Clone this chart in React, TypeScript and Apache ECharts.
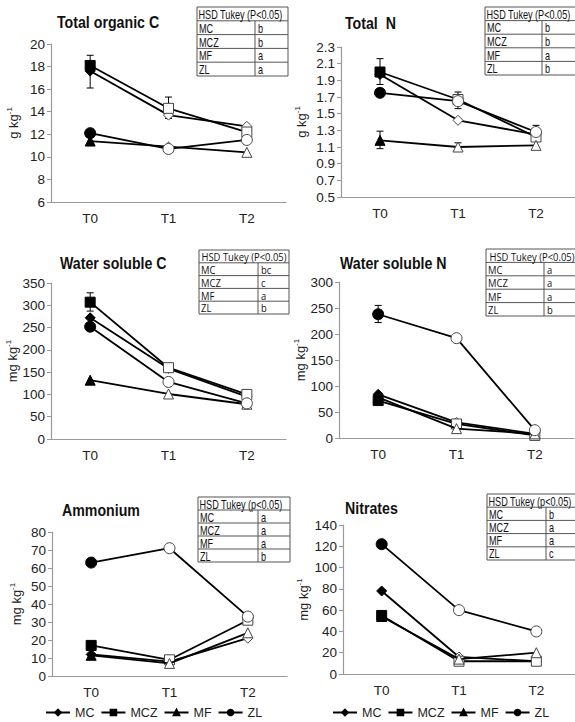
import React, { useEffect, useRef } from "react";
import * as echarts from "echarts";

const categories = ["T0", "T1", "T2"];
const treatments = ["MC", "MCZ", "MF", "ZL"];
const symbols = ["diamond", "rect", "triangle", "circle"];
const symbolSizes = [10, 10, 10, 11];

// Total organic C (g kg-1)
const tocMC = [17.6, 13.7, 12.7];
const tocMCZ = [18.1, 14.3, 12.2];
const tocMF = [11.4, 10.9, 10.4];
const tocZL = [12.1, 10.7, 11.5];
const tocErr = [[0, 16.1, 19.0], [1, 13.4, 15.3]];
const tocHSD = ["b", "b", "a", "a"];

// Total N (g kg-1)
const tnMC = [1.97, 1.42, 1.25];
const tnMCZ = [2.0, 1.67, 1.22];
const tnMF = [1.18, 1.1, 1.12];
const tnZL = [1.75, 1.65, 1.28];
const tnErr = [[0, 1.85, 2.16], [0, 1.08, 1.29], [1, 1.56, 1.76], [1, 1.06, 1.15], [2, 1.17, 1.36]];
const tnHSD = ["b", "b", "a", "b"];

// Water soluble C (mg kg-1)
const wscMC = [272, 158, 95];
const wscMCZ = [307, 160, 100];
const wscMF = [132, 101, 78];
const wscZL = [252, 128, 80];
const wscErr = [[0, 287, 328]];
const wscHSD = ["bc", "c", "a", "b"];

// Water soluble N (mg kg-1)
const wsnMC = [84, 30, 8];
const wsnMCZ = [72, 27, 5];
const wsnMF = [78, 18, 8];
const wsnZL = [238, 192, 15];
const wsnErr = [[0, 222, 255]];
const wsnHSD = ["a", "a", "a", "b"];

// Ammonium (mg kg-1)
const amMC = [12, 8, 21];
const amMCZ = [17, 9, 31];
const amMF = [11.5, 7, 24];
const amZL = [63, 71, 33];
const amErr: number[][] = [];
const amHSD = ["a", "a", "a", "b"];

// Nitrates (mg kg-1)
const niMC = [78, 16, 12];
const niMCZ = [55, 12, 12];
const niMF = [54, 14, 20];
const niZL = [122, 60, 40];
const niErr: number[][] = [];
const niHSD = ["b", "a", "a", "c"];

const panels = [
  { title: "Total organic C", unit: "g kg", values: [tocMC, tocMCZ, tocMF, tocZL], err: tocErr, hsd: tocHSD, head: "HSD Tukey (P<0.05)",
    min: 6, max: 20, interval: 2, dec: 0,
    grid: { left: 51, top: 44, width: 235, height: 158 }, titlePos: [57, 22], nameGap: 30,
    table: { x: 197, y: 7, w: 91, h: 69, col: 58 }, tfont: "Liberation Sans" },
  { title: "Total  N", unit: "g kg", values: [tnMC, tnMCZ, tnMF, tnZL], err: tnErr, hsd: tnHSD, head: "HSD Tukey (P<0.05)",
    min: 0.5, max: 2.3, interval: 0.2, dec: 1,
    grid: { left: 341, top: 47, width: 235, height: 150 }, titlePos: [345, 23], nameGap: 32,
    table: { x: 485, y: 7, w: 93, h: 68, col: 57 }, tfont: "Liberation Sans" },
  { title: "Water soluble C", unit: "mg kg", values: [wscMC, wscMCZ, wscMF, wscZL], err: wscErr, hsd: wscHSD, head: "HSD Tukey (P<0.05)",
    min: 0, max: 350, interval: 50, dec: 0,
    grid: { left: 51, top: 283, width: 235, height: 156 }, titlePos: [60, 263], nameGap: 30,
    table: { x: 199, y: 250, w: 90, h: 64, col: 59 }, tfont: "Open Sans" },
  { title: "Water soluble N", unit: "mg kg", values: [wsnMC, wsnMCZ, wsnMF, wsnZL], err: wsnErr, hsd: wsnHSD, head: "HSD Tukey (P<0.05)",
    min: 0, max: 300, interval: 50, dec: 0,
    grid: { left: 339, top: 282, width: 235, height: 156 }, titlePos: [340, 263], nameGap: 30,
    table: { x: 486, y: 249, w: 92, h: 67, col: 58 }, tfont: "Open Sans" },
  { title: "Ammonium", unit: "mg kg", values: [amMC, amMCZ, amMF, amZL], err: amErr, hsd: amHSD, head: "HSD Tukey (p<0.05)",
    min: 0, max: 80, interval: 10, dec: 0,
    grid: { left: 52, top: 532, width: 235, height: 144 }, titlePos: [62, 510], nameGap: 28,
    table: { x: 198, y: 497, w: 92, h: 65, col: 60 }, tfont: "Liberation Sans" },
  { title: "Nitrates", unit: "mg kg", values: [niMC, niMCZ, niMF, niZL], err: niErr, hsd: niHSD, head: "HSD Tukey (p<0.05)",
    min: 0, max: 140, interval: 20, dec: 0,
    grid: { left: 343, top: 525, width: 235, height: 149 }, titlePos: [345, 508], nameGap: 32,
    table: { x: 487, y: 494, w: 91, h: 66, col: 59 }, tfont: "Liberation Sans" },
];

const FONT = "Liberation Sans, Arial, sans-serif";

function buildTable(p: any) {
  const t = p.table;
  const rowH = t.h / 5;
  const stroke = { stroke: "#555", lineWidth: 1, fill: "none" };
  const children: any[] = [];
  children.push({ type: "rect", shape: { x: t.x, y: t.y, width: t.w, height: t.h }, style: { ...stroke, fill: "#fff" }, z: 10 });
  for (let r = 1; r < 5; r++) {
    children.push({ type: "line", shape: { x1: t.x, y1: t.y + r * rowH, x2: t.x + t.w, y2: t.y + r * rowH }, style: stroke, z: 11 });
  }
  children.push({ type: "line", shape: { x1: t.x + t.col, y1: t.y + rowH, x2: t.x + t.col, y2: t.y + t.h }, style: stroke, z: 11 });
  const isOpen = p.tfont === "Open Sans";
  const fs = isOpen ? 11.5 : 12;
  const sx = isOpen ? 0.82 : 0.76;
  const font = `${fs}px ${p.tfont}`;
  children.push({
    type: "text", x: isOpen ? t.x + t.w / 2 : t.x + 1.5, y: t.y + rowH / 2 + 0.5, z: 12, scaleX: sx,
    style: { text: p.head, font, fill: "#111", align: isOpen ? "center" : "left", verticalAlign: "middle" },
  });
  treatments.forEach((tr, i) => {
    const cy = t.y + rowH * (i + 1.5) + 0.5;
    children.push({ type: "text", x: t.x + 2, y: cy, z: 12, scaleX: sx, style: { text: tr, font, fill: "#111", verticalAlign: "middle" } });
    children.push({ type: "text", x: t.x + t.col + 3, y: cy, z: 12, scaleX: sx, style: { text: p.hsd[i], font, fill: "#111", verticalAlign: "middle" } });
  });
  return { type: "group", children };
}

export default function App() {
  const ref = useRef<HTMLDivElement>(null);
  useEffect(() => {
    document.body.style.margin = "0";
    if (!ref.current) return;
    const chart = echarts.init(ref.current, undefined, { renderer: "svg" });

    const grid: any[] = [];
    const xAxis: any[] = [];
    const yAxis: any[] = [];
    const series: any[] = [];
    const graphic: any[] = [];

    panels.forEach((p, i) => {
      grid.push({ ...p.grid, containLabel: false });
      xAxis.push({
        type: "category", gridIndex: i, data: categories, boundaryGap: true,
        axisLine: { lineStyle: { color: "#999", width: 1.2 } },
        axisTick: { show: false },
        axisLabel: { color: "#222", fontSize: 13.5, fontFamily: FONT, margin: 9 },
      });
      yAxis.push({
        type: "value", gridIndex: i, min: p.min, max: p.max, interval: p.interval,
        name: `{a|${p.unit}}{b|-1}`, nameLocation: "middle", nameRotate: 90, nameGap: p.nameGap,
        nameTextStyle: {
          rich: {
            a: { fontSize: 13, fontFamily: FONT, color: "#222" },
            b: { fontSize: 8, fontFamily: FONT, color: "#222", verticalAlign: "top", padding: [0, 0, 8, 0] },
          },
        },
        axisLine: { show: true, lineStyle: { color: "#999", width: 1.2 } },
        axisTick: { show: true, length: 4, lineStyle: { color: "#999" } },
        splitLine: { show: false },
        axisLabel: {
          color: "#222", fontSize: 13.5, fontFamily: FONT, margin: 6,
          formatter: (v: number) => v.toFixed(p.dec),
        },
      });
      graphic.push({
        type: "text", x: p.titlePos[0], y: p.titlePos[1], scaleX: 0.86, z: 12,
        style: { text: p.title, font: `bold 16.5px ${FONT}`, fill: "#111", verticalAlign: "middle" },
      });
      treatments.forEach((tr, k) => {
        series.push({
          type: "line", name: tr, xAxisIndex: i, yAxisIndex: i,
          symbol: symbols[k], symbolSize: symbolSizes[k],
          lineStyle: { color: "#000", width: 1.8 },
          itemStyle: { color: "#000", borderColor: "#000", borderWidth: 1 },
          data: p.values[k].map((v, j) =>
            j === 0
              ? { value: v }
              : { value: v, itemStyle: { color: "#fff", borderColor: "#444", borderWidth: 1 } }
          ),
          z: 3 + k,
        });
      });
      if (p.err.length) {
        series.push({
          type: "custom", xAxisIndex: i, yAxisIndex: i, silent: true, z: 2,
          data: p.err,
          renderItem: (_params: any, api: any) => {
            const x = api.value(0);
            const lo = api.coord([x, api.value(1)]);
            const hi = api.coord([x, api.value(2)]);
            const cap = 3.5;
            const st = { stroke: "#000", lineWidth: 1 };
            return {
              type: "group",
              children: [
                { type: "line", shape: { x1: lo[0], y1: lo[1], x2: hi[0], y2: hi[1] }, style: st },
                { type: "line", shape: { x1: hi[0] - cap, y1: hi[1], x2: hi[0] + cap, y2: hi[1] }, style: st },
                { type: "line", shape: { x1: lo[0] - cap, y1: lo[1], x2: lo[0] + cap, y2: lo[1] }, style: st },
              ],
            };
          },
        });
      }
      graphic.push(buildTable(p));
    });

    const legendBase = {
      data: treatments, orient: "horizontal", top: 706, padding: 0,
      itemWidth: 24, itemHeight: 7, itemGap: 6,
      selectedMode: false,
      textStyle: { fontSize: 12.5, fontFamily: FONT, color: "#222" },
    };

    chart.setOption({
      animation: false,
      backgroundColor: "#fff",
      grid,
      xAxis,
      yAxis,
      series,
      graphic,
      legend: [
        { ...legendBase, left: 45 },
        { ...legendBase, left: 332 },
      ],
    });
    return () => chart.dispose();
  }, []);
  return <div ref={ref} style={{ width: 575, height: 722 }} />;
}
